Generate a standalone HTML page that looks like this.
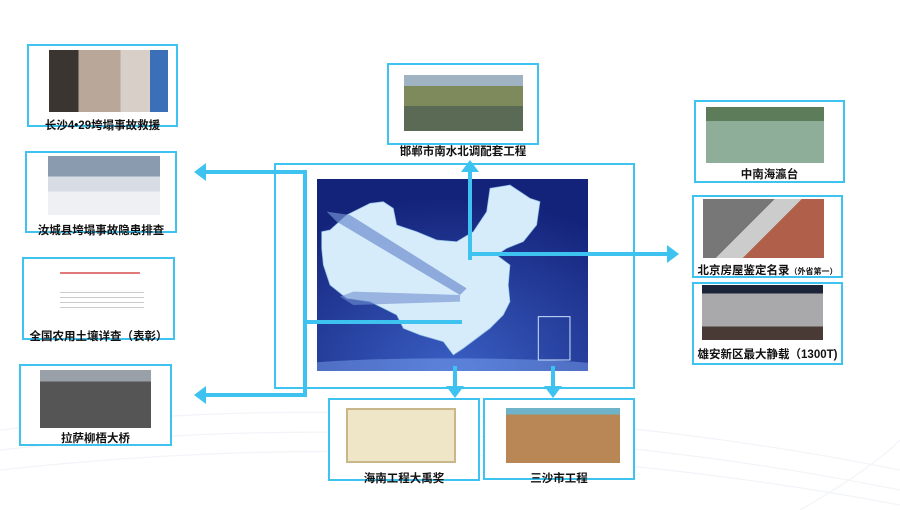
<!DOCTYPE html>
<html><head><meta charset="utf-8"><style>
body{margin:0;width:900px;height:510px;overflow:hidden;background:#fff;font-family:"Liberation Sans","Noto Sans CJK SC",sans-serif;position:relative}
.b{position:absolute;border:2px solid #3ec3f0;box-sizing:border-box;background:#fff}
.img{position:absolute}
.lb{position:absolute;font-weight:bold;font-size:11.5px;color:#111;white-space:nowrap;text-align:center}
</style></head><body>
<svg width="900" height="510" style="position:absolute;left:0;top:0">
<g fill="none" stroke="#f1f4f8" stroke-width="1.2">
<path d="M0 430 Q450 380 900 470"/><path d="M0 450 Q450 400 900 490"/><path d="M0 470 Q450 420 900 505"/><path d="M800 510 Q870 470 900 440"/>
</g>
</svg>
<!-- left boxes -->
<div class="b" style="left:27px;top:44px;width:151px;height:83px"></div>
<div class="img" style="left:49px;top:50px;width:119px;height:62px;background:linear-gradient(90deg,#3a3530 0 25%,#b9a79a 25% 60%,#d8d0c8 60% 85%,#3b70b8 85%)"></div>
<div class="lb" style="left:27px;top:117px;width:151px">长沙4•29垮塌事故救援</div>

<div class="b" style="left:25px;top:151px;width:152px;height:82px"></div>
<div class="img" style="left:48px;top:156px;width:112px;height:59px;background:linear-gradient(180deg,#8a9bb0 0 35%,#d8dde5 35% 60%,#eef0f4 60%)"></div>
<div class="lb" style="left:25px;top:222px;width:152px">汝城县垮塌事故隐患排查</div>

<div class="b" style="left:22px;top:257px;width:153px;height:83px"></div>
<div class="img" style="left:60px;top:272px;width:80px;height:2px;background:#e07a7a"></div>
<div class="img" style="left:60px;top:292px;width:84px;height:20px;background:repeating-linear-gradient(180deg,#ccc 0 1px,#fff 1px 5px)"></div>
<div class="lb" style="left:22px;top:328px;width:153px">全国农用土壤详查（表彰）</div>

<div class="b" style="left:19px;top:364px;width:153px;height:82px"></div>
<div class="img" style="left:40px;top:370px;width:111px;height:58px;background:linear-gradient(180deg,#9aa0a8 0 20%,#555 20% 100%)"></div>
<div class="lb" style="left:19px;top:430px;width:153px">拉萨柳梧大桥</div>

<!-- top -->
<div class="b" style="left:387px;top:63px;width:152px;height:82px"></div>
<div class="img" style="left:404px;top:75px;width:119px;height:56px;background:linear-gradient(180deg,#9fb3c2 0 20%,#7e8a5c 20% 55%,#5b6a55 55%)"></div>
<div class="lb" style="left:387px;top:143px;width:152px">邯郸市南水北调配套工程</div>

<!-- center -->
<div class="b" style="left:274px;top:163px;width:361px;height:226px;background:transparent"></div>
<svg width="271" height="192" style="position:absolute;left:317px;top:179px">
<defs><radialGradient id="g" cx="0.5" cy="1" r="0.9"><stop offset="0" stop-color="#3a5fc4"/><stop offset="1" stop-color="#14237a"/></radialGradient></defs>
<rect width="271" height="192" fill="url(#g)"/>
<g transform="translate(-7 -4) scale(0.3333)">
<path fill="#d6ecfa" stroke="#8bbbe6" stroke-width="2" d="M35 170 L60 165 L110 120 L180 85 L220 80 L250 100 L260 150 L320 170 L380 195 L440 200 L490 170 L530 110 L540 40 L600 30 L660 70 L690 80 L680 150 L640 200 L590 220 L560 240 L600 270 L595 330 L600 380 L580 420 L540 460 L500 490 L460 520 L430 540 L400 500 L330 480 L280 460 L260 420 L180 380 L110 370 L60 330 L40 270 L35 220 Z"/>
<path fill="#6f8fd0" opacity="0.7" d="M450 360 L80 140 L50 110 L120 120 L470 340 Z"/>
<path fill="#6f8fd0" opacity="0.6" d="M450 380 L130 390 L90 365 L130 350 L450 360 Z"/>
<ellipse cx="420" cy="580" rx="500" ry="30" fill="#8fb8ff" opacity="0.4"/>
<rect x="685" y="425" width="95" height="130" fill="none" stroke="#cfe3ff" stroke-width="3"/>
</g>
</svg>
<svg width="900" height="510" style="position:absolute;left:0;top:0">
<g stroke="#3ec3f0" stroke-width="4" fill="none">
<path d="M305 172 H205"/><path d="M305 170 V397"/><path d="M305 395 H205"/><path d="M305 322 H462"/>
<path d="M470 260 V170"/><path d="M470 254 H668"/>
<path d="M455 366 V388"/><path d="M553 366 V388"/>
</g>
<g fill="#3ec3f0">
<polygon points="194,172 206,163 206,181"/><polygon points="194,395 206,386 206,404"/>
<polygon points="470,160 461,172 479,172"/><polygon points="679,254 667,245 667,263"/>
<polygon points="455,398 446,386 464,386"/><polygon points="553,398 544,386 562,386"/>
</g>
</svg>

<!-- bottom -->
<div class="b" style="left:328px;top:398px;width:152px;height:83px"></div>
<div class="img" style="left:346px;top:408px;width:110px;height:55px;background:#efe6c8;border:2px solid #c9b68a;box-sizing:border-box"></div>
<div class="lb" style="left:328px;top:470px;width:152px">海南工程大禹奖</div>
<div class="b" style="left:483px;top:398px;width:152px;height:82px"></div>
<div class="img" style="left:506px;top:408px;width:114px;height:55px;background:linear-gradient(180deg,#6fb3c8 0 12%,#b88755 12%)"></div>
<div class="lb" style="left:483px;top:470px;width:152px">三沙市工程</div>

<!-- right -->
<div class="b" style="left:694px;top:100px;width:151px;height:83px"></div>
<div class="img" style="left:706px;top:107px;width:118px;height:56px;background:linear-gradient(180deg,#5d7d5a 0 25%,#8fae9a 25%)"></div>
<div class="lb" style="left:694px;top:166px;width:151px">中南海瀛台</div>
<div class="b" style="left:692px;top:195px;width:151px;height:83px"></div>
<div class="img" style="left:703px;top:199px;width:121px;height:59px;background:linear-gradient(135deg,#777 0 40%,#ccc 40% 55%,#b0604a 55%)"></div>
<div class="lb" style="left:692px;top:262px;width:151px">北京房屋鉴定名录<span style="font-size:8px">（外省第一）</span></div>
<div class="b" style="left:692px;top:282px;width:151px;height:83px"></div>
<div class="img" style="left:702px;top:285px;width:121px;height:55px;background:linear-gradient(180deg,#1c2538 0 15%,#a9a9ab 15% 75%,#4a3a35 75%)"></div>
<div class="lb" style="left:692px;top:346px;width:151px">雄安新区最大静载（1300T)</div>
</body></html>
